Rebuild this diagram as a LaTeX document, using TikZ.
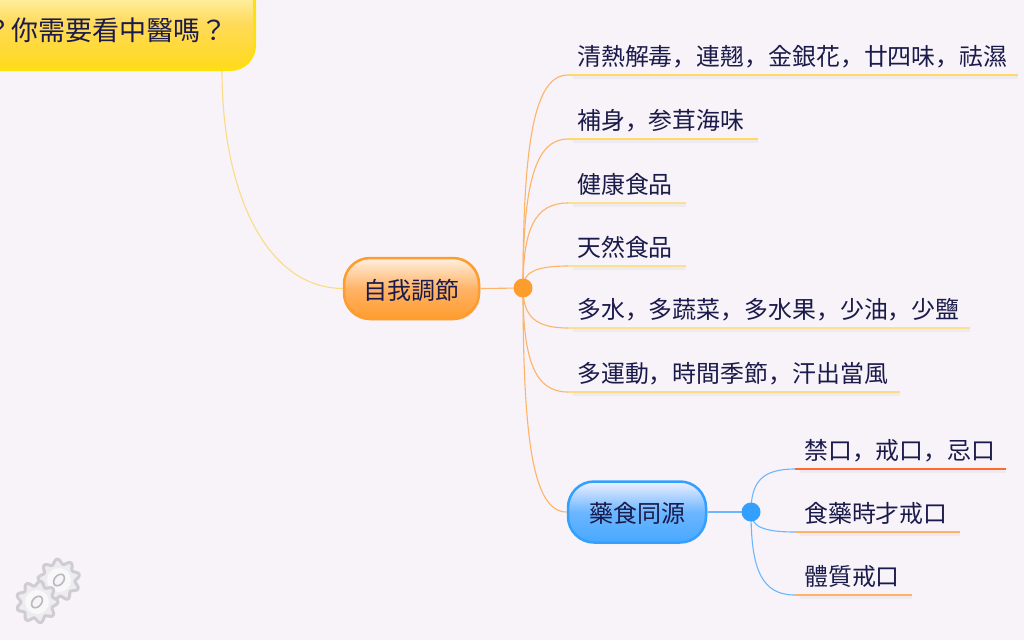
\documentclass[tikz,border=0pt]{standalone}
\usepackage{fontspec}
\setmainfont{Noto Sans CJK JP}
\usetikzlibrary{backgrounds,shadows,calc}
\definecolor{pagebg}{HTML}{F7F3F8}
\definecolor{ink}{HTML}{1B1B4B}
\definecolor{lineshade}{HTML}{EEEAF0}
\definecolor{sunline}{HTML}{FFD966}
\definecolor{paleline}{HTML}{FCE092}
\definecolor{softline}{HTML}{FBDC86}
\definecolor{peachline}{HTML}{FFB366}
\definecolor{redline}{HTML}{FF6B2E}
\definecolor{skyline}{HTML}{6CB6FF}
\definecolor{hubamber}{HTML}{FF9C2E}
\definecolor{hubblue}{HTML}{339FFF}
\definecolor{gearedge}{HTML}{CFCDD3}
\definecolor{gearbody}{HTML}{EDECEF}
\tikzset{
    mainnode/.style={rounded corners=26pt, minimum height=61pt,
        line width=2.5pt, text=ink, font=\fontsize{24}{28}\selectfont,
        text height=23pt, text depth=2pt,
        copy shadow={draw=none, fill=lineshade, shadow xshift=1.5pt, shadow yshift=-1.5pt}},
    selfnode/.style={mainnode, minimum width=135pt, draw=hubamber, top color=orange!12!white,
        bottom color=hubamber, middle color=peachline},
    foodnode/.style={mainnode, minimum width=138pt, draw=hubblue, top color=blue!6!white,
        bottom color=hubblue!90!white, middle color=skyline},
    leaf/.style={anchor=south west, inner xsep=9pt, inner ysep=3pt, align=left, text=ink,
        text height=20pt, text depth=6.5pt, font=\fontsize{23.9}{28}\selectfont},
    hubdot/.style={circle, inner sep=0pt, minimum size=19pt},
    branch/.style={line width=1.1pt, line cap=round},
}
\begin{document}
\begin{tikzpicture}[x=1pt,y=-1pt]
    \useasboundingbox (0,0) rectangle (1024,640);
    \clip (0,0) rectangle (1024,640);
    \begin{scope}[on background layer]
        \fill[pagebg] (0,0) rectangle (1024,640);
    \end{scope}
    % main topics
    \node[rounded corners=24pt, anchor=south east, minimum width=330pt, minimum height=92pt,
        line width=3pt, draw=yellow!82!orange!95!white, top color=yellow!15!white,
        bottom color=yellow!68!orange!90!white, middle color=yellow!55!orange!65!white] (topic) at (256,71) {};
    \node[anchor=east, inner sep=0pt, text=ink, font=\fontsize{27}{30}\selectfont] (topiclabel)
        at (228,30) {？你需要看中醫嗎？};
    \coordinate (topicfoot) at (222,71);
    \node[selfnode] (self) at (411.5,288.5) {自我調節};
    \node[foodnode] (food) at (637,512) {藥食同源};
    \node[hubdot, fill=hubamber] (hubself) at (523,288) {};
    \node[hubdot, fill=hubblue] (hubfood) at (751,512) {};
    \begin{scope}[on background layer]
        \draw[branch, softline] (topicfoot) .. controls (222,190) and (265,288) .. (self.west);
        \draw[branch, peachline] (self.east) -- (hubself.center);
        \draw[branch, skyline] (food.east) -- (hubfood.center);
        \draw[branch, peachline] (hubself.center) .. controls (523,445) and (534,512) .. (food.west);
    \end{scope}
    % leaves
    \foreach \name/\hub/\xpos/\ypos/\wid/\lbl/\col/\lw/\curve in {
        heat/hubself/568/75/432/清熱解毒，連翹，金銀花，廿四味，祛濕/sunline/1.5/peachline,
        tonic/hubself/568/139/172/補身，参茸海味/sunline/1.5/peachline,
        health/hubself/568/203/100/健康食品/paleline/1.5/peachline,
        nature/hubself/568/266/100/天然食品/paleline/1.5/peachline,
        water/hubself/568/328/384/多水，多蔬菜，多水果，少油，少鹽/paleline/1.8/peachline,
        sport/hubself/568/392/314/多運動，時間季節，汗出當風/softline/1.3/peachline,
        avoid/hubfood/795/469/193/禁口，戒口，忌口/redline/2.3/skyline,
        medtime/hubfood/795/532/147/食藥時才戒口/peachline/1.3/skyline,
        body/hubfood/795/595/99/體質戒口/peachline/1.3/skyline}
    {
        \node[leaf, text width=\wid pt] (\name) at (\xpos,\ypos) {\lbl};
        \begin{scope}[on background layer]
            \draw[lineshade, line width=3pt] ([xshift=5pt,yshift=-2.5pt]\name.south west) -- ([yshift=-2.5pt]\name.south east);
            \draw[branch, \curve] (\hub.center) .. controls ($(\hub.center |- \name.south west)!.3!(\hub.center)$) and ([xshift=-33pt]\name.south west) .. (\name.south west);
            \draw[\col, line width=\lw pt] (\name.south west) -- (\name.south east);
        \end{scope}
    }
    % gears
    \foreach \cx/\cy/\rot in {59/580/25, 37/602/10}
    {
        \draw[fill=gearbody, draw=gearedge, line width=3pt, line join=round, rotate around={\rot:(\cx,\cy)}]
            plot[domain=0:360, samples=145, smooth] ({\cx+(18.5+2.4*sin(9*\x))*cos(\x)}, {\cy+(18.5+2.4*sin(9*\x))*sin(\x)}) -- cycle;
        \fill[white!60!gearbody] (\cx,\cy) circle [radius=12pt];
        \draw[fill=pagebg, draw=gray!55, line width=1.6pt, rotate around={50:(\cx,\cy)}]
            (\cx,\cy) ellipse [x radius=6.5pt, y radius=4.5pt];
    }
\end{tikzpicture}
\end{document}
